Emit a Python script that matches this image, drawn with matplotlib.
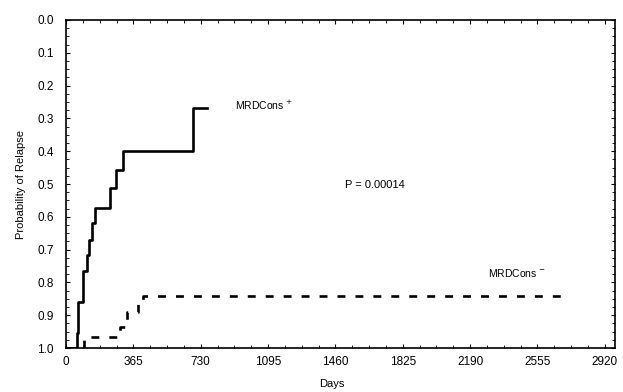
import matplotlib
matplotlib.use('Agg')
import matplotlib.pyplot as plt
from matplotlib.ticker import MultipleLocator, FormatStrFormatter

plt.rcParams['font.family'] = ['Liberation Sans', 'DejaVu Sans']

# step curve for MRDCons+ (days, value on the inverted axis)
pos_days = [0, 60, 65, 92, 114, 125, 141, 157, 238, 271, 309, 688, 764]
pos_vals = [1.0, 0.955, 0.86, 0.765, 0.716, 0.67, 0.62, 0.573, 0.512, 0.457, 0.40, 0.268, 0.268]

# step curve for MRDCons-
neg_days = [0, 100, 290, 330, 390, 415, 2694]
neg_vals = [1.0, 0.967, 0.935, 0.89, 0.865, 0.84, 0.84]

x_ticks = [0, 365, 730, 1095, 1460, 1825, 2190, 2555, 2920]

fig = plt.figure(figsize=(6.23, 3.92), dpi=100)
ax = fig.add_axes([0.106, 0.112, 0.881, 0.837])

ax.step(pos_days, pos_vals, where='post', color='black', lw=1.9)
ax.step(neg_days, neg_vals, where='post', color='black', lw=1.9,
        dashes=(3, 3.8))

ax.set_xlim(0, 2975)
ax.set_ylim(1.0, 0.0)
ax.set_xticks(x_ticks)
ax.xaxis.set_minor_locator(MultipleLocator(365 / 4))
ax.yaxis.set_major_locator(MultipleLocator(0.1))
ax.yaxis.set_minor_locator(MultipleLocator(0.025))
ax.yaxis.set_major_formatter(FormatStrFormatter('%.1f'))
ax.tick_params(which='both', direction='in', top=True, right=True,
               labelsize=8.5, color='black')
ax.tick_params(which='major', length=3)
ax.tick_params(which='minor', length=2)
ax.tick_params(axis='x', pad=6)
ax.tick_params(axis='y', pad=9)
for s in ax.spines.values():
    s.set_linewidth(1.2)

ax.text(916, 0.26, 'MRDCons $^{+}$', fontsize=7.5, va='center')
ax.text(1512, 0.503, 'P = 0.00014', fontsize=8, va='center')
ax.text(2287, 0.77, 'MRDCons $^{-}$', fontsize=7.5, va='center')

ax.set_ylabel('Probability of Relapse', fontsize=8, labelpad=8)
ax.set_xlabel('Days', fontsize=8)
ax.xaxis.set_label_coords(0.485, -0.095)
ax.xaxis.label.set_va('top')

fig.savefig('out.png', dpi=100)
